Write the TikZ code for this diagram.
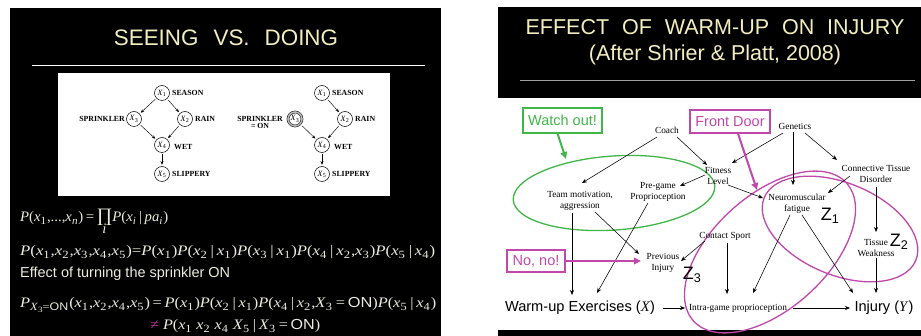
\documentclass[tikz,border=0pt]{standalone}
\usepackage{fontspec}
\setmainfont{Liberation Serif}
\setsansfont{Liberation Sans}
\usepackage{graphicx}
\usetikzlibrary{arrows.meta,calc}
\definecolor{cream}{RGB}{242,238,190}
\definecolor{eqcol}{RGB}{236,236,222}
\definecolor{mag}{RGB}{192,72,170}
\definecolor{neqcol}{RGB}{175,60,155}
\definecolor{grn}{RGB}{64,182,72}
\newcommand\mi[1]{\textit{#1}}
\newcommand\sbx[1]{\textsubscript{#1}}
\newcommand\es[1]{\raisebox{-0.4ex}{\fontsize{11}{11}\selectfont#1}\kern0.8pt}
\newcommand\ess[1]{\raisebox{-0.3ex}{\fontsize{8}{8}\selectfont#1}}
\newcommand\xv[1]{\mi{x}\es{#1}}
\newcommand\eqf{\fontsize{14.5}{17}\selectfont}
\begin{document}
\begin{tikzpicture}[x=1pt,y=-1pt,
  gnode/.style={circle,draw,line width=0.5pt,minimum size=15pt,inner sep=0pt,font=\fontsize{8}{8}\selectfont},
  glab/.style={font=\fontsize{7.8}{8}\selectfont\bfseries,inner sep=1pt,align=center},
  garr/.style={-{Stealth[length=3.5pt,width=3pt]},line width=0.45pt,shorten <=1.5pt,shorten >=1.5pt},
  rlab/.style={font=\fontsize{9.3}{10.5}\selectfont,align=center,inner sep=1pt},
  rarr/.style={-{Stealth[length=5pt,width=4pt]},line width=0.55pt},
  bigsans/.style={font=\sffamily\fontsize{14.6}{16}\selectfont,inner sep=0pt},
  zlab/.style={font=\sffamily\fontsize{18}{18}\selectfont,inner sep=0pt},
  eqn/.style={text=eqcol,anchor=base west,inner sep=0pt},
  callout/.style={draw,line width=1.2pt,font=\sffamily\fontsize{14.5}{15}\selectfont,inner sep=0pt},
  thick arrow/.style={line width=2pt,-{Triangle[length=7pt,width=6.5pt]}},
  ring/.style={line width=1.3pt}
]
\useasboundingbox (0,0) rectangle (921,336);
\fill[white] (0,0) rectangle (921,336);
% ---------------- left panel ----------------
\fill[black] (10,8) rectangle (441,336);
\node[text=cream,font=\sffamily\fontsize{22.4}{24}\selectfont,anchor=base,inner sep=0pt] (ltitle) at (226,46) {SEEING\hspace{0.67em}VS.\hspace{0.67em}DOING};
\draw[white,line width=1pt] (32,66) -- (425,66);
\fill[white] (58,73) rectangle (390,196);
% left graph
\node[gnode] (a1) at (162,93) {\mi{X}\sbx{1}};
\node[gnode] (a3) at (134,119) {\mi{X}\sbx{3}};
\node[gnode] (a2) at (185,119) {\mi{X}\sbx{2}};
\node[gnode] (a4) at (162,145) {\mi{X}\sbx{4}};
\node[gnode] (a5) at (162,174) {\mi{X}\sbx{5}};
\node[glab,anchor=west] (la1) at (171,93) {SEASON};
\node[glab,anchor=east] (la3) at (126,119) {SPRINKLER};
\node[glab,anchor=west] (la2) at (194,119) {RAIN};
\node[glab,anchor=west] (la4) at (173,147) {WET};
\node[glab,anchor=west] (la5) at (171,174) {SLIPPERY};
\draw[garr] (a1) -- (a3);
\draw[garr] (a1) -- (a2);
\draw[garr] (a3) -- (a4);
\draw[garr] (a2) -- (a4);
\draw[garr] (a4) -- (a5);
% right graph
\node[gnode] (b1) at (322,93) {\mi{X}\sbx{1}};
\node[gnode,draw=black,double=gray!55,double distance=1.6pt,minimum size=14pt] (b3) at (295,119) {\mi{X}\sbx{3}};
\node[gnode] (b2) at (345,119) {\mi{X}\sbx{2}};
\node[gnode] (b4) at (322,145) {\mi{X}\sbx{4}};
\node[gnode] (b5) at (322,174) {\mi{X}\sbx{5}};
\node[glab,anchor=west] (lb1) at (331,93) {SEASON};
\node[glab,anchor=east,font=\fontsize{7.8}{7}\selectfont\bfseries] (lb3) at (284,122) {SPRINKLER\\= ON};
\node[glab,anchor=west] (lb2) at (354,119) {RAIN};
\node[glab,anchor=west] (lb4) at (333,147) {WET};
\node[glab,anchor=west] (lb5) at (331,174) {SLIPPERY};
\draw[garr] (b1) -- (b2);
\draw[garr,shorten <=3pt] (b3) -- (b4);
\draw[garr] (b2) -- (b4);
\draw[garr] (b4) -- (b5);
% equations
\node[eqn] (eq1) at (20,222) {\resizebox{148pt}{\height}{\eqf\mi{P}(\xv{1},...,\xv{\mi{n}})\,=\,\begin{tabular}[t]{@{}c@{}}{\fontsize{19}{19}\selectfont ∏}\\[-5pt]\mi{i}\end{tabular}\mi{P}(\xv{\mi{i}}\,|\,\mi{pa}\es{\mi{i}})}};
\node[eqn] (eq2) at (20,256) {\resizebox{415pt}{\height}{\eqf\mi{P}(\xv{1},\xv{2},\xv{3},\xv{4},\xv{5})=\mi{P}(\xv{1})\mi{P}(\xv{2}\,|\,\xv{1})\mi{P}(\xv{3}\,|\,\xv{1})\mi{P}(\xv{4}\,|\,\xv{2},\xv{3})\mi{P}(\xv{5}\,|\,\xv{4})}};
\node[eqn] (eq3) at (20,278) {\resizebox{210pt}{!}{\sffamily\fontsize{15}{17}\selectfont Effect of turning the sprinkler ON}};
\node[eqn] (eq4) at (20,308) {\resizebox{416pt}{\height}{\eqf\mi{P}\es{\mi{X}\ess{3}=\textsf{ON}}(\xv{1},\xv{2},\xv{4},\xv{5})\,=\,\mi{P}(\xv{1})\mi{P}(\xv{2}\,|\,\xv{1})\mi{P}(\xv{4}\,|\,\xv{2},\mi{X}\es{3}\,=\,\textsf{ON})\mi{P}(\xv{5}\,|\,\xv{4})}};
\node[eqn] (eq5) at (150,330) {\resizebox{170pt}{\height}{\eqf{\color{neqcol}≠}\ \mi{P}(\xv{1}\ \xv{2}\ \xv{4}\ \mi{X}\es{5}\,|\,\mi{X}\es{3}\,=\,\textsf{ON})}};
% ---------------- right panel ----------------
\fill[black] (498,7) rectangle (921,98);
\fill[black] (498,330) rectangle (921,336);
\node[text=cream,font=\sffamily\fontsize{21.5}{24}\selectfont,anchor=base,inner sep=0pt] (rtitle) at (715,35) {EFFECT\hspace{0.6em}OF\hspace{0.6em}WARM-UP\hspace{0.6em}ON\hspace{0.6em}INJURY};
\node[text=cream,font=\sffamily\fontsize{21.5}{24}\selectfont,anchor=base,inner sep=0pt] (rsub) at (715,61) {(After Shrier \& Platt, 2008)};
\draw[gray!75,line width=0.8pt] (520,80) -- (915,80);
% ellipses
\draw[grn,ring,rotate around={4:(614,193)}] (614,193) ellipse [x radius=101,y radius=37];
\draw[mag,ring,rotate around={42:(770,252)}] (770,252) ellipse [x radius=103,y radius=57];
\draw[mag,ring,rotate around={-22.5:(840,229)}] (840,229) ellipse [x radius=82,y radius=46];
% nodes
\node[rlab] (coach) at (667,130) {Coach};
\node[rlab] (gen) at (795,126) {Genetics};
\node[rlab] (fit) at (718,176) {Fitness\\Level};
\node[rlab] (ctd) at (876,174) {Connective Tissue\\Disorder};
\node[rlab] (team) at (580,201) {Team motivation,\\aggression};
\node[rlab] (pre) at (658,192) {Pre-game\\Proprioception};
\node[rlab] (neu) at (797,204) {Neuromuscular\\fatigue};
\node[rlab] (con) at (725,236) {Contact Sport};
\node[rlab] (prev) at (663,263) {Previous\\Injury};
\node[rlab] (tis) at (876,248) {Tissue\\Weakness};
\node[rlab] (intra) at (738,308) {Intra-game proprioception};
\node[bigsans] (warm) at (580,308) {Warm-up Exercises (\textrm{\mi{X}})};
\node[bigsans] (inj) at (884,308) {Injury (\textrm{\mi{Y}})};
\node[zlab] (z1) at (830,216) {Z\textsubscript{1}};
\node[zlab] (z2) at (899,242) {Z\textsubscript{2}};
\node[zlab] (z3) at (692,275) {Z\textsubscript{3}};
% arrows
\draw[rarr] ($(coach)+(-10,7)$) -- ($(team)+(2,-18)$);
\draw[rarr] ($(coach)+(10,7)$) -- ($(fit)+(-11,-11)$);
\draw[rarr] ($(gen)+(-12,7)$) -- ($(fit)+(14,-13)$);
\draw[rarr] ($(gen)+(-2,6)$) -- ($(neu)+(-4,-19)$);
\draw[rarr] ($(gen)+(10,7)$) -- ($(ctd)+(-39,-14)$);
\draw[rarr] ($(fit)+(-13,-1)$) -- ($(pre)+(22,-6)$);
\draw[rarr] ($(fit)+(10,9)$) -- ($(neu)+(-34,-6)$);
\draw[rarr] ($(ctd)+(-26,2)$) -- ($(neu)+(31,-11)$);
\draw[rarr] ($(ctd)+(0,13)$) -- ($(tis)+(0,-16)$);
\draw[rarr] ($(team)+(-8,12)$) -- ($(warm)+(-8,-13)$);
\draw[rarr] ($(team)+(15,11)$) -- ($(prev)+(-24,-9)$);
\draw[rarr] ($(pre)+(-10,11)$) -- ($(warm)+(17,-15)$);
\draw[rarr] ($(con)+(-20,5)$) -- ($(prev)+(18,-2)$);
\draw[rarr] ($(con)+(2,7)$) -- ($(intra)+(-11,-14)$);
\draw[rarr] ($(neu)+(-7,11)$) -- ($(intra)+(15,-15)$);
\draw[rarr] ($(neu)+(5,11)$) -- ($(inj)+(-31,-15)$);
\draw[rarr] ($(tis)+(0,10)$) -- ($(inj)+(-8,-15)$);
\draw[rarr] ($(warm)+(83,0)$) -- ($(intra)+(-53,0)$);
\draw[rarr] ($(intra)+(55,0)$) -- ($(inj)+(-34,0)$);
% callouts
\node[callout,grn,minimum width=79pt,minimum height=25pt] (watch) at (562.5,120.5) {Watch out!};
\node[callout,mag,minimum width=80pt,minimum height=23pt] (fd) at (730,121.5) {Front Door};
\node[callout,mag,minimum width=58pt,minimum height=22pt] (nono) at (536,261) {No, no!};
\coordinate (gtop) at (566,159);
\coordinate (mtop) at (757,190);
\draw[grn,thick arrow] ($(watch.south)+(-5,0)$) -- (gtop);
\draw[mag,thick arrow] ($(fd.south)+(8,0)$) -- (mtop);
\draw[mag,thick arrow] (nono.east) -- ($(prev)+(-22,-2)$);
\end{tikzpicture}
\end{document}
